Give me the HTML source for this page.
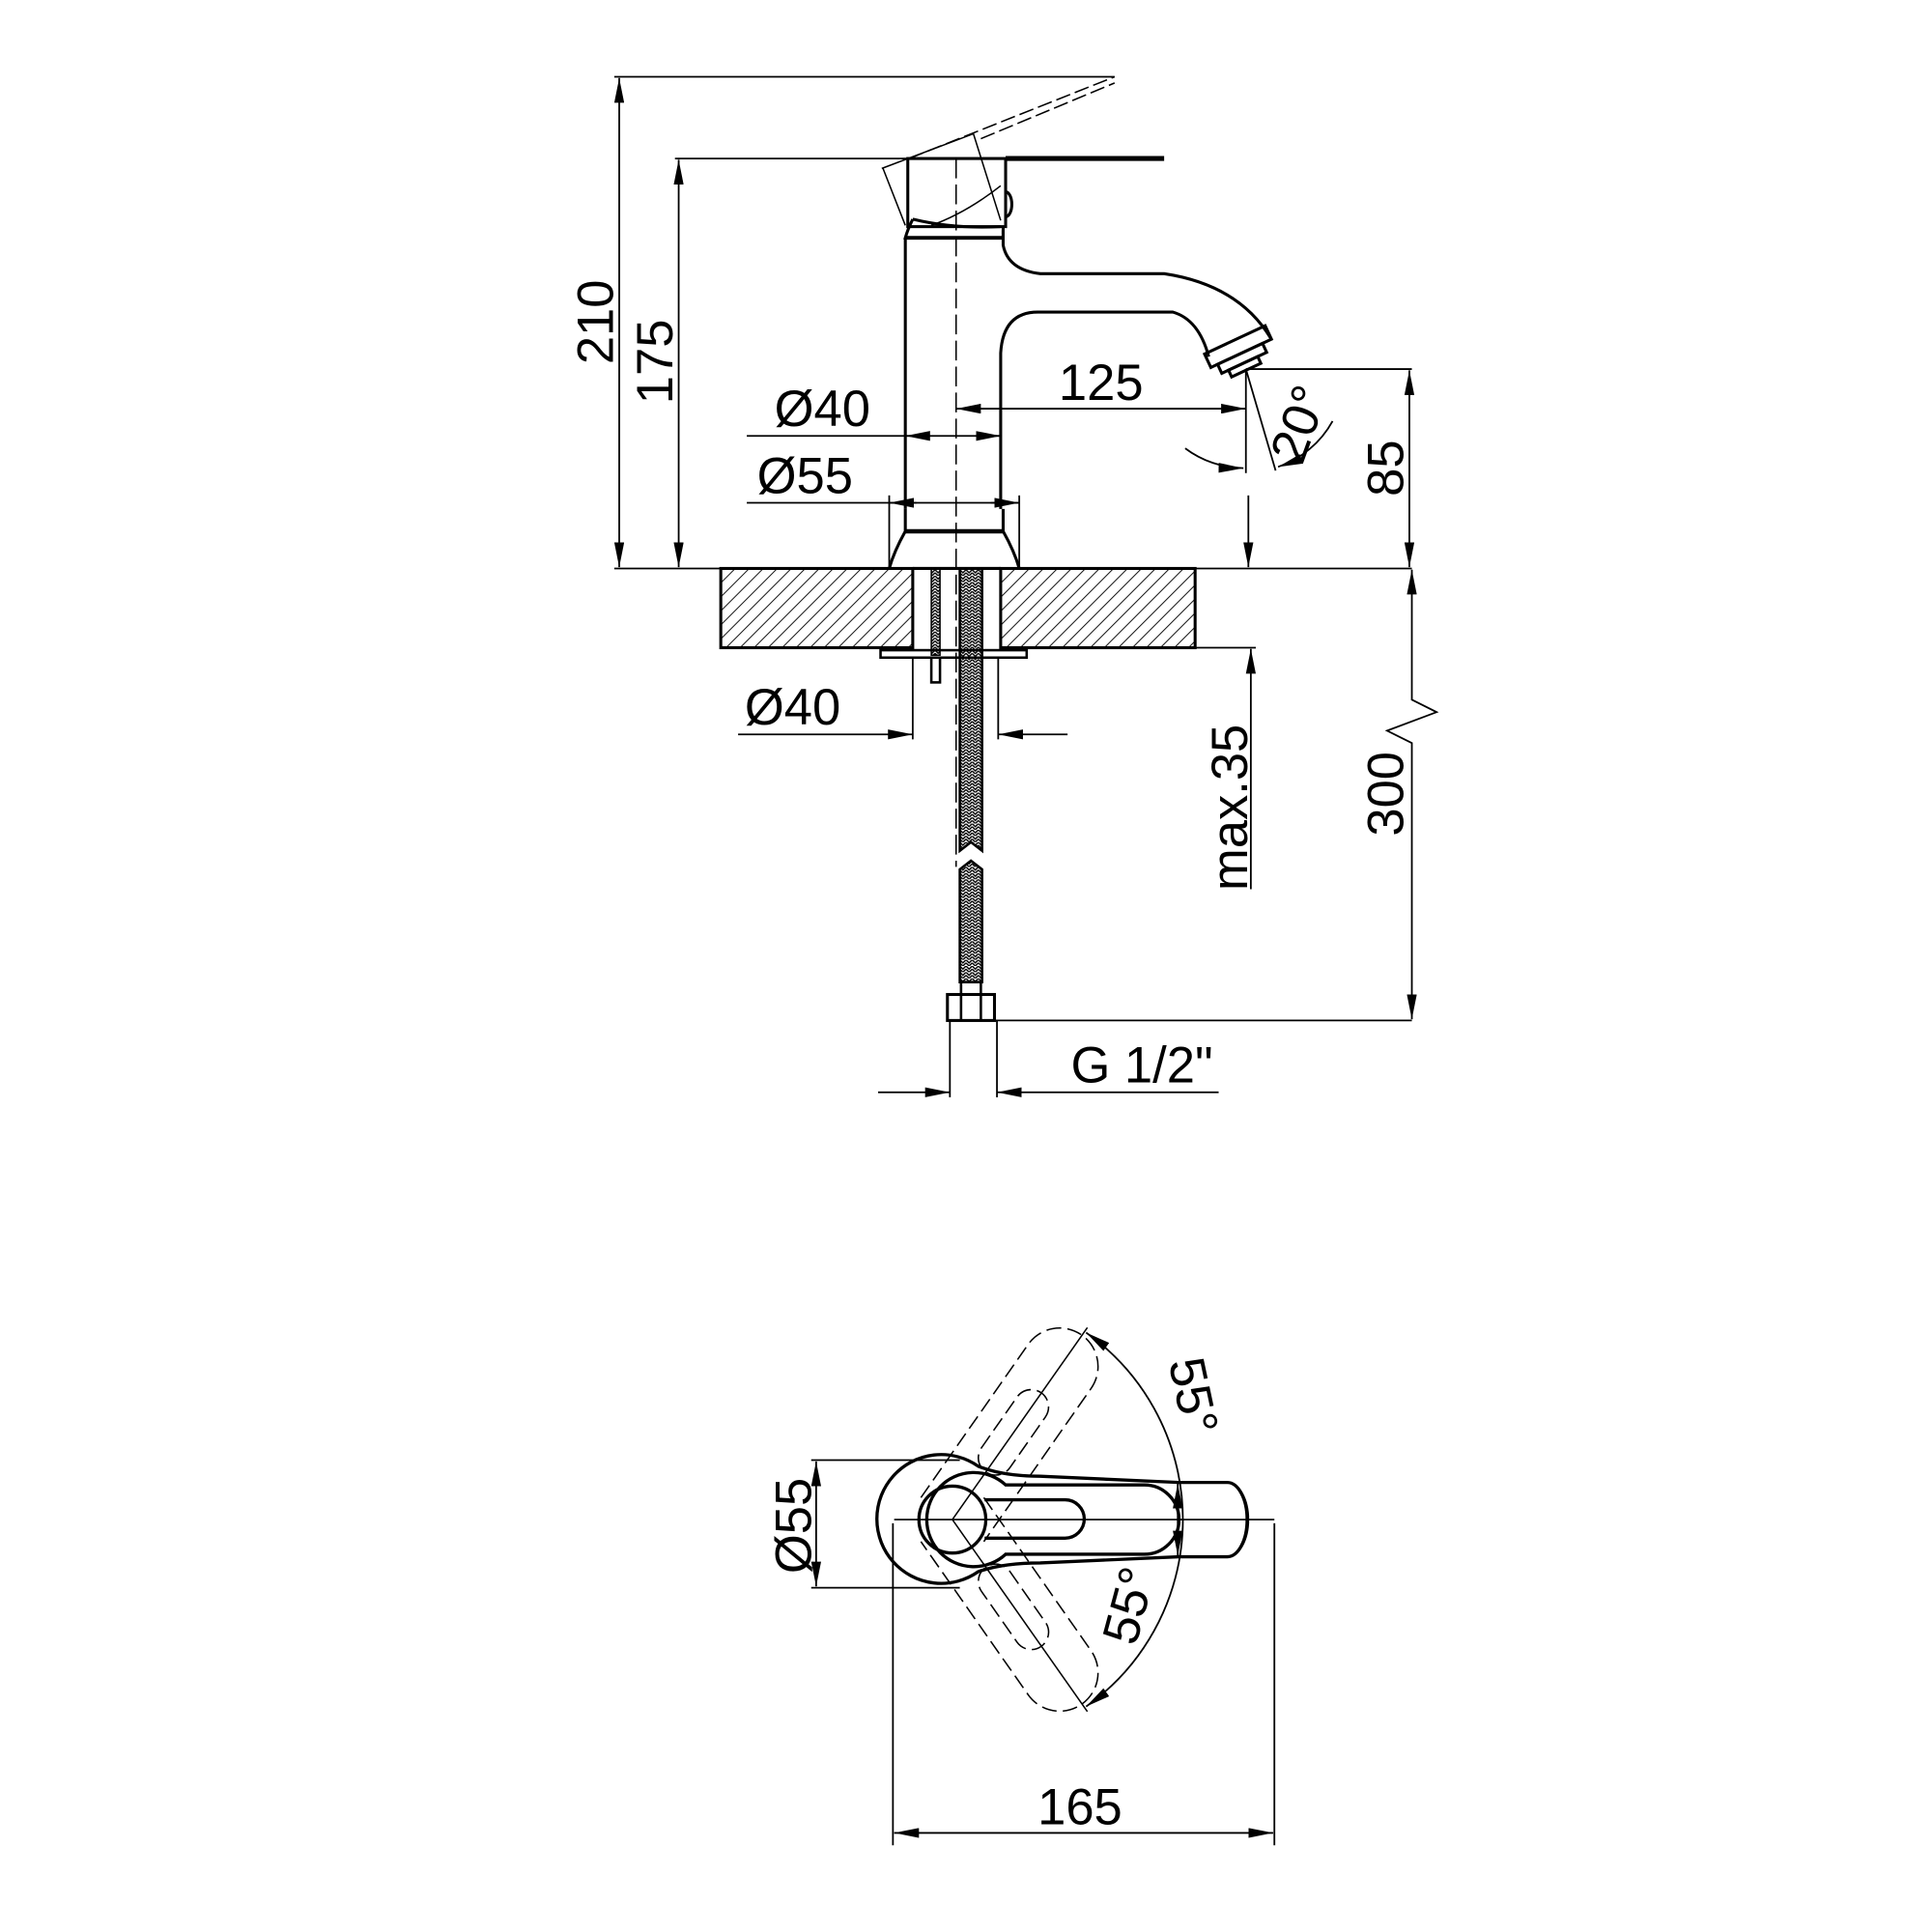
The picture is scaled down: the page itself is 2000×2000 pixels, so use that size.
<!DOCTYPE html>
<html><head><meta charset="utf-8"><style>html,body{margin:0;padding:0;background:#fff}svg{display:block}</style></head>
<body>
<svg xmlns="http://www.w3.org/2000/svg" width="2000" height="2000" viewBox="0 0 1560 1560">
<defs>
<pattern id="h" patternUnits="userSpaceOnUse" width="8" height="8" patternTransform="rotate(45)">
<line x1="0" y1="0" x2="0" y2="8" stroke="#000" stroke-width="1.4"/></pattern>
<pattern id="br" patternUnits="userSpaceOnUse" width="5" height="5">
<path d="M0 0L2.5 2.5L5 0M0 2.5L2.5 5L5 2.5" stroke="#000" stroke-width="1.1" fill="none"/></pattern>
<marker id="a" viewBox="0 0 20 8" refX="20" refY="4" markerWidth="20" markerHeight="8" markerUnits="userSpaceOnUse" orient="auto-start-reverse"><path d="M0 0L20 4L0 8z" fill="#000"/></marker>
</defs>
<g fill="none" stroke="#000" stroke-width="1.4" font-family="Liberation Sans, sans-serif">
<!-- dimensions top -->
<line x1="496" y1="62" x2="900" y2="62"/>
<line x1="500" y1="63" x2="500" y2="458" marker-start="url(#a)" marker-end="url(#a)"/>
<text transform="translate(495 260) rotate(-90)" font-size="41" fill="#000" stroke="none" text-anchor="middle">210</text>
<line x1="545" y1="128" x2="735" y2="128"/>
<line x1="548" y1="129" x2="548" y2="458" marker-start="url(#a)" marker-end="url(#a)"/>
<text transform="translate(543 292) rotate(-90)" font-size="41" fill="#000" stroke="none" text-anchor="middle">175</text>
<line x1="496" y1="459" x2="1140" y2="459"/>
<!-- dashed lever -->
<g stroke-dasharray="12 4" stroke-width="1.2">
<line x1="734" y1="128" x2="900" y2="62"/>
<line x1="792" y1="112" x2="900" y2="67"/>
</g>
<g stroke-width="1.2">
<path d="M713 136L731 182M712 136L786 108L808 178"/>
<path d="M752 182Q780 172 808 150"/>
</g>
<!-- handle -->
<rect x="733" y="128" width="79" height="55" stroke-width="2.4"/>
<path d="M812 128H940" stroke-width="4"/>
<path d="M812 155a4 8 0 0 1 0 20" stroke-width="2.4"/>
<path d="M737 177Q733 185 731 192H810V183" stroke-width="2.4"/>
<path d="M737 177Q770 185 808 183" stroke-width="2.4"/>
<line x1="731" y1="192" x2="810" y2="192" stroke-width="3"/>
<!-- body -->
<path d="M731 192V411" stroke-width="2.4"/>
<path d="M810 186V198Q814 218 840 221H940Q1000 230 1026 273" stroke-width="2.4"/>
<path d="M808 411V285Q810 252 838 252H947Q968 258 976 288" stroke-width="2.4"/>
<!-- nozzle -->
<g transform="rotate(-25 1000 283)" stroke-width="2.4">
<rect x="974" y="274" width="54" height="12"/>
<rect x="980" y="286" width="40" height="8"/>
<rect x="986" y="294" width="26" height="6"/>
</g>
<!-- base -->
<line x1="731" y1="429" x2="810" y2="429" stroke-width="3.5"/>
<path d="M731 411V429Q722 445 718 459M810 411V429Q819 445 823 459" stroke-width="2.4"/>
<line x1="772" y1="128" x2="772" y2="700" stroke-dasharray="16 5" stroke-width="1.2"/>
<!-- 125 -->
<line x1="772" y1="330" x2="1006" y2="330" marker-start="url(#a)" marker-end="url(#a)"/>
<text x="889" y="323" font-size="41" fill="#000" stroke="none" text-anchor="middle">125</text>
<line x1="1006" y1="298" x2="1140" y2="298"/>
<line x1="1006" y1="298" x2="1006" y2="382"/>
<line x1="1006" y1="298" x2="1030" y2="380"/>
<path d="M957 362A80 80 0 0 0 1004 378" marker-end="url(#a)"/>
<path d="M1076 340A80 80 0 0 1 1032 377" marker-end="url(#a)"/>
<text transform="translate(1062 347) rotate(-70)" font-size="41" fill="#000" stroke="none" text-anchor="middle">20°</text>
<!-- 85 -->
<line x1="1138" y1="299" x2="1138" y2="458" marker-start="url(#a)" marker-end="url(#a)"/>
<text transform="translate(1133 378) rotate(-90)" font-size="41" fill="#000" stroke="none" text-anchor="middle">85</text>
<line x1="1008" y1="400" x2="1008" y2="458" marker-end="url(#a)"/>
<!-- Ø40 / Ø55 upper -->
<line x1="603" y1="352" x2="808" y2="352"/>
<line x1="750" y1="352" x2="731" y2="352" marker-end="url(#a)"/>
<line x1="790" y1="352" x2="808" y2="352" marker-end="url(#a)"/>
<text x="664" y="344" font-size="41" fill="#000" stroke="none" text-anchor="middle">Ø40</text>
<line x1="603" y1="406" x2="823" y2="406"/>
<line x1="740" y1="406" x2="718" y2="406" marker-end="url(#a)"/>
<line x1="800" y1="406" x2="823" y2="406" marker-end="url(#a)"/>
<line x1="718" y1="400" x2="718" y2="459"/><line x1="823" y1="400" x2="823" y2="459"/>
<text x="650" y="398" font-size="41" fill="#000" stroke="none" text-anchor="middle">Ø55</text>
<!-- countertop -->
<rect x="582" y="459" width="155" height="64" fill="url(#h)" stroke-width="2.4"/>
<rect x="808" y="459" width="157" height="64" fill="url(#h)" stroke-width="2.4"/>
<line x1="737" y1="459" x2="808" y2="459" stroke-width="2.4"/>
<line x1="965" y1="523" x2="1014" y2="523"/>
<rect x="752" y="459" width="7" height="70" stroke-width="1.2" fill="url(#br)"/>
<rect x="752" y="531" width="7" height="20" stroke-width="2"/>
<rect x="711" y="525" width="118" height="6" stroke-width="2"/>
<path d="M775 459V687L784 680L793 687V459" fill="url(#br)" stroke-width="2"/>
<path d="M775 793V702L784 695L793 702V793Z" fill="url(#br)" stroke-width="2"/>
<rect x="776" y="793" width="16" height="10" stroke-width="2"/>
<rect x="765" y="803" width="38" height="21" stroke-width="2.4"/>
<line x1="776" y1="803" x2="776" y2="824" stroke-width="2"/><line x1="792" y1="803" x2="792" y2="824" stroke-width="2"/>
<!-- Ø40 lower -->
<line x1="737" y1="531" x2="737" y2="597"/><line x1="806" y1="531" x2="806" y2="597"/>
<line x1="596" y1="593" x2="737" y2="593" marker-end="url(#a)"/>
<line x1="862" y1="593" x2="806" y2="593" marker-end="url(#a)"/>
<text x="640" y="585" font-size="41" fill="#000" stroke="none" text-anchor="middle">Ø40</text>
<!-- max.35 -->
<line x1="1010" y1="718" x2="1010" y2="524" marker-end="url(#a)"/>
<text transform="translate(1007 652) rotate(-90)" font-size="41" fill="#000" stroke="none" text-anchor="middle">max.35</text>
<!-- 300 -->
<path d="M1140 460V565L1160 575L1120 590L1140 600V823" marker-start="url(#a)" marker-end="url(#a)"/>
<line x1="803" y1="824" x2="1140" y2="824"/>
<text transform="translate(1133 641) rotate(-90)" font-size="41" fill="#000" stroke="none" text-anchor="middle">300</text>
<!-- G1/2 -->
<line x1="767" y1="824" x2="767" y2="886"/><line x1="805" y1="824" x2="805" y2="886"/>
<line x1="709" y1="882" x2="767" y2="882" marker-end="url(#a)"/>
<line x1="984" y1="882" x2="805" y2="882" marker-end="url(#a)"/>
<text x="922" y="874" font-size="41" fill="#000" stroke="none" text-anchor="middle">G 1/2"</text>

<!-- bottom view -->
<line x1="655" y1="1179" x2="775" y2="1179"/>
<line x1="655" y1="1282" x2="775" y2="1282"/>
<line x1="659" y1="1180" x2="659" y2="1281" marker-start="url(#a)" marker-end="url(#a)"/>
<text transform="translate(655 1232) rotate(-90)" font-size="41" fill="#000" stroke="none" text-anchor="middle">Ø55</text>
<line x1="721" y1="1230" x2="721" y2="1490"/>
<line x1="1029" y1="1230" x2="1029" y2="1490"/>
<line x1="722" y1="1480" x2="1028" y2="1480" marker-start="url(#a)" marker-end="url(#a)"/>
<text x="872" y="1473" font-size="41" fill="#000" stroke="none" text-anchor="middle">165</text>
<line x1="722" y1="1227" x2="1029" y2="1227" stroke-width="1.2"/>
<!-- dashed rotated levers -->
<g stroke-dasharray="12 5" stroke-width="1.2">
<g transform="rotate(-55 769 1227)">
<path d="M769 1196H920A31 31 0 0 1 920 1258H769"/>
<path d="M830 1213H880A14 14 0 0 1 880 1241H830A14 14 0 0 1 830 1213"/>
</g>
<g transform="rotate(55 769 1227)">
<path d="M769 1196H920A31 31 0 0 1 920 1258H769"/>
<path d="M830 1213H880A14 14 0 0 1 880 1241H830A14 14 0 0 1 830 1213"/>
</g>
</g>
<line x1="769" y1="1227" x2="878" y2="1072" stroke-width="1.2"/>
<line x1="769" y1="1227" x2="878" y2="1382" stroke-width="1.2"/>
<path d="M877 1076A185 185 0 0 1 877 1378" marker-start="url(#a)" marker-end="url(#a)"/>
<text transform="translate(950 1130) rotate(78)" font-size="41" fill="#000" stroke="none" text-anchor="middle">55°</text>
<text transform="translate(925 1300) rotate(-75)" font-size="41" fill="#000" stroke="none" text-anchor="middle">55°</text>
<!-- lever -->
<g stroke-width="2.6">
<path d="M790 1184A52 52 0 1 0 790 1269Q810 1262 840 1262L952 1257H991A16 30 0 0 0 991 1197H952L840 1192Q810 1192 790 1184Z"/>
<path d="M812 1199A38 38 0 1 0 812 1255H924A28 28 0 0 0 924 1199Z"/>
<circle cx="769" cy="1227" r="27"/>
<path d="M795 1211H860A15.5 15.5 0 0 1 860 1242H795" />
<path d="M991 1197A17 30 0 0 1 991 1257" stroke-width="1.4"/>
</g>
<line x1="951" y1="1198" x2="951" y2="1256" marker-start="url(#a)" marker-end="url(#a)"/>
</g>
</svg>
</body></html>
